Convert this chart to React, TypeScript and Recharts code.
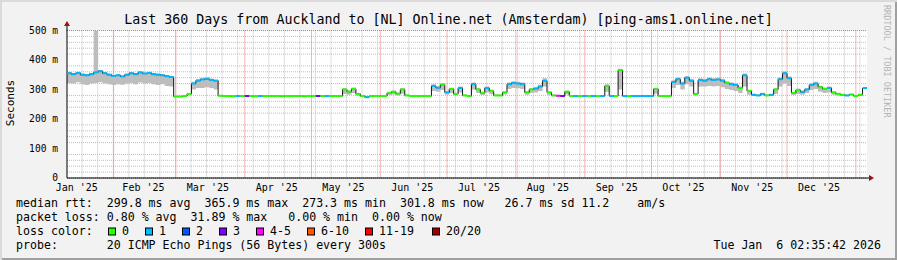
import React from 'react';
import { ComposedChart, XAxis, YAxis, CartesianGrid, Area, Line, Scatter } from 'recharts';

// ---- data (2-day steps, day 0 = 11 Jan 2025) ----
const STEP_DAYS = 2;

const medianRtt = [
  355, 352, 356, 350, 348, 352, 358, 362, 355, 350,
  346, 348, 344, 350, 355, 352, 358, 354, 356, 352,
  350, 348, 345, 342, 276, 276, 278, 285, 320, 330,
  334, 336, 332, 330, 279, 278, 278, 277, 278, 278,
  278, 278, 277, 278, 278, 278, 278, 278, 277, 278,
  278, 278, 278, 277, 278, 278, 278, 278, 278, 278,
  278, 278, 300, 292, 302, 285, 278, 274, 278, 278,
  278, 278, 288, 292, 286, 300, 280, 278, 278, 278,
  278, 278, 312, 306, 316, 290, 302, 285, 305, 280,
  278, 318, 300, 288, 305, 295, 280, 280, 290, 318,
  322, 320, 318, 290, 300, 303, 310, 330, 290, 280,
  279, 278, 292, 278, 278, 278, 278, 278, 278, 278,
  278, 312, 278, 278, 365, 278, 278, 278, 278, 278,
  278, 278, 302, 278, 278, 278, 325, 335, 320, 340,
  330, 285, 332, 330, 335, 332, 334, 330, 322, 318,
  315, 305, 348, 295, 282, 280, 285, 280, 282, 300,
  335, 355, 338, 288, 298, 292, 300, 315, 320, 308,
  302, 305, 290, 285, 282, 280, 283, 278, 282, 305,
];

const smokeLo = [
  322, 320, 325, 318, 315, 320, 322, 325, 320, 318,
  315, 318, 316, 320, 322, 318, 324, 320, 322, 318,
  315, 318, 312, 310, 275, 275, 277, 280, 300, 305,
  305, 308, 305, 300, 278, 277, 277, 276, 277, 277,
  277, 277, 276, 277, 277, 277, 277, 277, 276, 277,
  277, 277, 277, 276, 277, 277, 277, 277, 277, 277,
  277, 277, 285, 282, 288, 279, 277, 273, 277, 277,
  277, 277, 281, 283, 280, 286, 278, 277, 277, 277,
  277, 277, 295, 292, 298, 283, 288, 280, 290, 278,
  277, 300, 288, 281, 290, 284, 278, 278, 283, 302,
  305, 304, 302, 282, 288, 290, 295, 310, 282, 278,
  278, 277, 283, 277, 277, 277, 277, 277, 277, 277,
  277, 292, 277, 277, 300, 277, 277, 277, 277, 277,
  277, 277, 286, 277, 277, 277, 305, 315, 300, 318,
  310, 280, 310, 310, 312, 310, 312, 308, 302, 298,
  295, 288, 310, 282, 279, 278, 280, 278, 279, 285,
  310, 320, 312, 281, 285, 282, 288, 298, 302, 292,
  288, 290, 282, 280, 279, 278, 280, 277, 279, 290,
];

const smokeHi = [
  359, 356, 360, 354, 352, 356, 500, 366, 359, 354,
  350, 352, 348, 354, 359, 356, 362, 358, 360, 356,
  354, 352, 349, 346, 278, 278, 280, 288, 326, 336,
  340, 342, 337, 334, 281, 279, 279, 278, 279, 279,
  279, 279, 278, 279, 279, 279, 279, 279, 278, 279,
  279, 279, 279, 278, 279, 279, 279, 279, 279, 279,
  279, 279, 305, 297, 307, 289, 279, 276, 279, 279,
  279, 279, 292, 297, 290, 305, 282, 279, 279, 279,
  279, 279, 318, 311, 322, 294, 306, 289, 310, 282,
  279, 324, 305, 292, 310, 300, 282, 282, 294, 324,
  328, 326, 324, 294, 305, 308, 316, 338, 294, 282,
  281, 279, 297, 279, 279, 279, 279, 279, 279, 279,
  279, 318, 279, 279, 370, 279, 279, 279, 279, 279,
  279, 279, 306, 279, 279, 279, 331, 341, 326, 346,
  336, 289, 338, 336, 341, 338, 340, 336, 328, 324,
  321, 310, 354, 299, 285, 282, 289, 282, 285, 305,
  341, 362, 344, 292, 303, 296, 305, 321, 326, 313,
  307, 310, 294, 289, 285, 282, 286, 279, 285, 310,
];

// loss bucket index into LOSS_COLORS
const lossBucket = [
  1, 1, 1, 1, 1, 1, 1, 1, 1, 1,
  1, 1, 1, 1, 1, 1, 1, 1, 1, 1,
  1, 1, 1, 1, 0, 0, 0, 0, 1, 1,
  1, 1, 1, 1, 0, 0, 0, 0, 1, 0,
  3, 0, 0, 1, 0, 0, 0, 0, 0, 0,
  0, 0, 0, 0, 0, 0, 3, 0, 1, 0,
  0, 0, 0, 0, 0, 0, 0, 1, 0, 0,
  0, 0, 0, 0, 0, 0, 0, 0, 0, 0,
  0, 0, 1, 1, 0, 1, 0, 0, 1, 0,
  0, 1, 0, 0, 1, 0, 0, 0, 0, 1,
  1, 1, 1, 0, 0, 1, 1, 1, 0, 0,
  4, 3, 0, 0, 1, 0, 1, 0, 1, 0,
  1, 0, 1, 0, 0, 1, 0, 1, 1, 1,
  1, 1, 0, 0, 0, 0, 1, 1, 1, 1,
  1, 0, 1, 1, 1, 1, 1, 1, 0, 1,
  1, 0, 1, 0, 1, 1, 1, 0, 1, 0,
  1, 1, 1, 0, 0, 1, 1, 1, 1, 0,
  0, 1, 0, 0, 0, 1, 0, 0, 0, 1,
];

const LOSS_COLORS = ['#26ff00', '#00b8ff', '#0059ff', '#7e00ff', '#ff00ff', '#ff5500', '#ff0000', '#a10000'];
const LOSS_LABELS = ['0', '1', '2', '3', '4-5', '6-10', '11-19', '20/20'];
const LEGEND_BOX_X = [108, 145, 182, 219, 256, 307, 365, 432];

const monthStartDays = [21, 49, 80, 110, 141, 171, 202, 233, 263, 294, 324, 355];
const monthLabelDays = [4.4, 34.4, 63.4, 94.4, 124.4, 155.4, 185.4, 216.4, 247.4, 277.4, 308.4, 338.4];
const monthLabels = ["Jan '25", "Feb '25", "Mar '25", "Apr '25", "May '25", "Jun '25", "Jul '25", "Aug '25", "Sep '25", "Oct '25", "Nov '25", "Dec '25"];
const yMajorTicks = [0, 100, 200, 300, 400, 500];
const yTickLabels = ['0', '100 m', '200 m', '300 m', '400 m', '500 m'];
const FIRST_WEEK_DAY = 6.8;

const TITLE = 'Last 360 Days from Auckland to [NL] Online.net (Amsterdam) [ping-ams1.online.net]';
const LEGEND_LINES = [
  'median rtt:  299.8 ms avg  365.9 ms max  273.3 ms min  301.8 ms now   26.7 ms sd 11.2    am/s',
  'packet loss: 0.80 % avg  31.89 % max   0.00 % min  0.00 % now',
  'loss color:',
  'probe:       20 ICMP Echo Pings (56 Bytes) every 300s',
];
const TIMESTAMP = 'Tue Jan  6 02:35:42 2026';

// ---- layout ----
const W = 897;
const H = 260;
const DOMAIN_DAYS = 360;
const Y_MAX = 500;
const MARGIN = { top: 30.5, right: 30, bottom: 62, left: 27 };
const Y_AXIS_W = 40;
const X_AXIS_H = 20;
const PLOT_LEFT = MARGIN.left + Y_AXIS_W;
const PLOT_W = W - PLOT_LEFT - MARGIN.right;
const SEG_W = (PLOT_W / DOMAIN_DAYS) * STEP_DAYS;
const MONO = '"DejaVu Sans Mono", monospace';
const MAJOR_GRID = '#e86a6a';
const MINOR_GRID = '#bcbcbc';

const rows = medianRtt.map((m, i) => ({
  day: i * STEP_DAYS,
  med: m,
  smoke: [smokeLo[i], smokeHi[i]],
  loss: lossBucket[i],
}));

const weekTicks: number[] = [];
for (let d = FIRST_WEEK_DAY; d < DOMAIN_DAYS; d += 7) weekTicks.push(d);
const yMinorTicks: number[] = [];
for (let v = 20; v < Y_MAX; v += 20) if (v % 100 !== 0) yMinorTicks.push(v);

const scaleOf = (axis: any, v: number, fallback: () => number) => {
  const s = axis && axis.scale;
  if (typeof s === 'function') {
    const r = s(v);
    if (typeof r === 'number' && !Number.isNaN(r)) return r;
  }
  if (s && typeof s.map === 'function') {
    const r = s.map(v);
    if (typeof r === 'number' && !Number.isNaN(r)) return r;
  }
  return fallback();
};

const vertGen = (days: number[]) => (props: any) => {
  const { xAxis, offset } = props;
  return days.map((d) => scaleOf(xAxis, d, () => offset.left + (d / DOMAIN_DAYS) * offset.width));
};
const horizGen = (vals: number[]) => (props: any) => {
  const { yAxis, offset } = props;
  return vals.map((v) => scaleOf(yAxis, v, () => offset.top + (1 - v / Y_MAX) * offset.height));
};

const MedianSeg = (props: any) => {
  const { cx, cy, payload } = props;
  if (cx == null || cy == null) return null;
  return <line x1={cx} y1={cy} x2={cx + SEG_W} y2={cy} stroke={LOSS_COLORS[payload.loss]} strokeWidth={2} />;
};

const YTick = (props: any) => {
  const { x, y, payload } = props;
  const label = yTickLabels[yMajorTicks.indexOf(payload.value)] ?? '';
  return (
    <text x={x} y={y} dy="0.355em" textAnchor="end" fontFamily={MONO} fontSize={9.6} fill="#000" style={{ whiteSpace: 'pre' }}>
      {label}
    </text>
  );
};

const XTick = (props: any) => {
  const { x, y, payload } = props;
  const label = monthLabels[monthLabelDays.indexOf(payload.value)] ?? '';
  return (
    <text x={x} y={y} dy="0.71em" textAnchor="middle" fontFamily={MONO} fontSize={10} fill="#000" style={{ whiteSpace: 'pre' }}>
      {label}
    </text>
  );
};

// axes shared by all layers; `bare` hides labels and lines (layout only)
const axes = (bare: boolean) => [
  <XAxis
    key="x"
    xAxisId="main"
    dataKey="day"
    type="number"
    domain={[0, DOMAIN_DAYS]}
    ticks={monthLabelDays}
    interval={0}
    tick={bare ? false : <XTick />}
    tickLine={false}
    tickSize={0}
    tickMargin={6}
    height={X_AXIS_H}
    axisLine={bare ? false : { stroke: '#000' }}
    allowDataOverflow
  />,
  <YAxis
    key="y"
    yAxisId="main"
    type="number"
    domain={[0, Y_MAX]}
    ticks={yMajorTicks}
    interval={0}
    tick={bare ? false : <YTick />}
    width={Y_AXIS_W}
    tickLine={false}
    tickSize={0}
    tickMargin={9}
    axisLine={bare ? false : { stroke: '#000' }}
    allowDataOverflow
  />,
];

const layerStyle: React.CSSProperties = { position: 'absolute', left: 0, top: 0 };

export default function App() {
  return (
    <div
      style={{
        position: 'absolute',
        left: 0,
        top: 0,
        width: W,
        height: H,
        background: '#f2f2f2',
        boxShadow: 'inset 2px 2px 0 #dadada, inset -2px -2px 0 #a0a0a0',
      }}
    >
      {/* layer 1: white canvas + minor grid */}
      <div style={layerStyle}>
        <ComposedChart width={W} height={H} data={rows} margin={MARGIN}>
          <CartesianGrid
            xAxisId="main"
            yAxisId="main"
            fill="#ffffff"
            stroke={MINOR_GRID}
            strokeDasharray="1 1"
            verticalCoordinatesGenerator={vertGen(weekTicks)}
            horizontalCoordinatesGenerator={horizGen(yMinorTicks)}
          />
          {axes(true)}
        </ComposedChart>
      </div>
      {/* layer 2: major horizontal grid from the y-axis ticks */}
      <div style={layerStyle}>
        <ComposedChart width={W} height={H} data={rows} margin={MARGIN}>
          <CartesianGrid xAxisId="main" yAxisId="main" vertical={false} stroke={MAJOR_GRID} strokeDasharray="1 1" />
          {axes(true)}
        </ComposedChart>
      </div>
      {/* layer 3: major vertical grid (month starts) + data + axes */}
      <div style={layerStyle}>
        <ComposedChart width={W} height={H} data={rows} margin={MARGIN}>
          <CartesianGrid
            xAxisId="main"
            yAxisId="main"
            horizontal={false}
            stroke={MAJOR_GRID}
            strokeDasharray="1 1"
            verticalCoordinatesGenerator={vertGen(monthStartDays)}
          />
          {axes(false)}
          <Area
            xAxisId="main"
            yAxisId="main"
            dataKey="smoke"
            type="stepAfter"
            fill="#bdbdbd"
            fillOpacity={1}
            stroke="none"
            isAnimationActive={false}
          />
          <Line
            xAxisId="main"
            yAxisId="main"
            dataKey="med"
            type="stepAfter"
            stroke="#161616"
            strokeWidth={1}
            dot={false}
            isAnimationActive={false}
          />
          <Scatter xAxisId="main" yAxisId="main" dataKey="med" data={rows} shape={MedianSeg} isAnimationActive={false} />
        </ComposedChart>
      </div>

      <svg width={W} height={H} style={{ position: 'absolute', left: 0, top: 0, pointerEvents: 'none' }}>
        <line x1={67} y1={24} x2={67} y2={31} stroke="#000" strokeWidth={1} />
        <polygon points="64,26 70,26 67,21" fill="#a01010" />
        <line x1={867} y1={178} x2={870} y2={178} stroke="#000" strokeWidth={1} />
        <polygon points="869,175 869,181 874,178" fill="#a01010" />

        <text x={448.5} y={24} textAnchor="middle" fontFamily={MONO} fontSize={13.3} fill="#000">
          {TITLE}
        </text>
        <text x={0} y={0} transform="translate(14,103) rotate(-90)" textAnchor="middle" fontFamily={MONO} fontSize={11} fill="#000">
          Seconds
        </text>
        <text x={0} y={0} transform="translate(884,5) rotate(90)" textAnchor="start" fontFamily={MONO} fontSize={8.5} fill="#b4b4b4">
          RRDTOOL / TOBI OETIKER
        </text>

        {LEGEND_LINES.map((t, i) => (
          <text key={i} x={16} y={207 + i * 14} fontFamily={MONO} fontSize={11.6} fill="#000" style={{ whiteSpace: 'pre' }}>
            {t}
          </text>
        ))}
        {LOSS_LABELS.map((lab, i) => (
          <g key={lab}>
            <rect x={LEGEND_BOX_X[i] + 0.5} y={228} width={7} height={7} fill={LOSS_COLORS[i]} stroke="#000" strokeWidth={1} />
            <text x={LEGEND_BOX_X[i] + 14} y={235} fontFamily={MONO} fontSize={11.6} fill="#000">
              {lab}
            </text>
          </g>
        ))}
        <text x={881} y={249} textAnchor="end" fontFamily={MONO} fontSize={11.6} fill="#000" style={{ whiteSpace: 'pre' }}>
          {TIMESTAMP}
        </text>
      </svg>
    </div>
  );
}
